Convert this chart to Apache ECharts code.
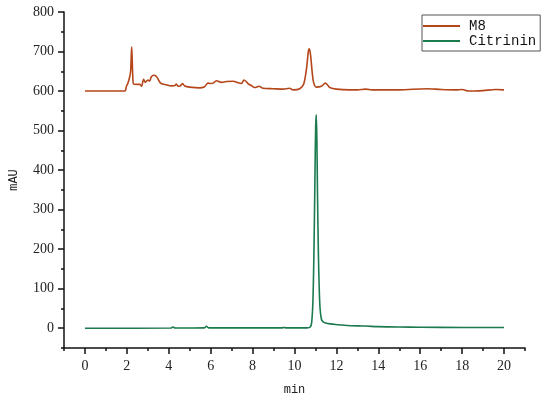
<!DOCTYPE html>
<html>
<head>
<meta charset="utf-8">
<script src="https://cdn.jsdelivr.net/npm/echarts@6/dist/echarts.min.js"></script>
<style>
  html, body { margin: 0; padding: 0; background: #fff; }
  #main { width: 550px; height: 401px; }
</style>
</head>
<body>
<div id="main"></div>
<script>
// M8 trace (time in min, mAU)
var m8Time = [0, 1.9, 1.98, 2.05, 2.13, 2.18, 2.23, 2.28, 2.32, 2.5, 2.62, 2.7, 2.8, 2.88, 3.0, 3.08, 3.17, 3.28, 3.41, 3.53, 3.64, 3.88, 4.12, 4.3, 4.36, 4.45, 4.55, 4.65, 4.76, 5.0, 5.47, 5.71, 5.87, 6.0, 6.11, 6.27, 6.51, 6.75, 7.07, 7.3, 7.47, 7.59, 7.7, 7.78, 7.94, 8.1, 8.31, 8.5, 9.0, 9.45, 9.77, 9.93, 10.25, 10.44, 10.58, 10.66, 10.71, 10.77, 10.84, 10.91, 11.04, 11.28, 11.47, 11.6, 11.68, 12.0, 12.63, 13.0, 13.4, 13.7, 15, 16.3, 17, 17.7, 18.0, 18.3, 18.6, 19.0, 19.6, 20.0];
var m8Value = [600, 600, 612, 620, 635, 650, 712, 640, 618, 617, 617, 612, 630, 622, 628, 625, 636, 640, 637, 626, 619, 616, 613, 614, 618, 612, 613, 619, 613, 610, 608, 611, 620, 619, 620, 626, 622, 624, 625, 621, 619, 628, 624, 619, 614, 609, 612, 607, 606, 605, 607, 603, 606, 618, 660, 700, 707, 690, 650, 622, 610, 612, 620, 614, 609, 605, 603, 603, 605, 603, 603, 606, 604, 603, 604, 600, 600, 601, 604, 603];

// Citrinin trace
var citTime = [0, 4.1, 4.2, 4.3, 5.7, 5.8, 5.9, 9.4, 9.5, 9.6, 10.6, 10.75, 10.82, 10.88, 10.93, 10.98, 11.01, 11.04, 11.07, 11.1, 11.14, 11.18, 11.22, 11.28, 11.35, 11.45, 11.7, 12.1, 12.5, 13.4, 14, 15, 16, 18, 20];
var citValue = [0, 0.5, 3, 0.5, 1, 5, 1, 1, 2, 1, 1, 3, 15, 70, 200, 400, 510, 540, 470, 330, 190, 100, 50, 24, 17, 14, 11, 9, 7, 5.5, 4, 3, 2.5, 2, 2];

var xLabels = [0, 2, 4, 6, 8, 10, 12, 14, 16, 18, 20];
var yLabels = [0, 100, 200, 300, 400, 500, 600, 700, 800];

function pairs(t, v) {
  return t.map(function (x, i) { return [x, v[i]]; });
}

var serif = 'Liberation Serif';
var mono = 'Liberation Mono';

var myChart = echarts.init(document.getElementById('main'));
var option = {
  animation: false,
  grid: { left: 64, right: 25, top: 12, bottom: 51 },
  legend: {
    orient: 'vertical',
    left: 422,
    top: 15,
    padding: [4, 4, 3, 1],
    itemGap: 1,
    itemWidth: 37,
    itemHeight: 2,
    icon: 'rect',
    borderColor: '#555',
    borderWidth: 1,
    textStyle: { fontFamily: mono, fontSize: 14, color: '#111', padding: [0, 0, 0, 4] },
    data: ['M8', 'Citrinin']
  },
  xAxis: [
    {
      type: 'value', min: -1, max: 21,
      name: 'min', nameLocation: 'middle', nameGap: 36,
      nameTextStyle: { fontFamily: mono, fontSize: 12, color: '#222' },
      axisLine: { onZero: false, lineStyle: { color: '#111', width: 1.5 } },
      axisTick: { length: 6, customValues: xLabels, lineStyle: { color: '#111', width: 1.5 } },
      axisLabel: { margin: 11, fontFamily: serif, fontSize: 14, color: '#222', customValues: xLabels },
      splitLine: { show: false }
    },
    {
      type: 'value', min: -1, max: 21, interval: 1, position: 'bottom',
      axisLine: { show: false, onZero: false },
      axisTick: { length: 3, lineStyle: { color: '#111', width: 1.5 } },
      axisLabel: { show: false },
      splitLine: { show: false }
    }
  ],
  yAxis: [
    {
      type: 'value', min: -50, max: 800,
      name: 'mAU', nameLocation: 'middle', nameGap: 44, nameRotate: 90,
      nameTextStyle: { fontFamily: mono, fontSize: 12, color: '#222' },
      axisLine: { show: true, onZero: false, lineStyle: { color: '#111', width: 1.5 } },
      axisTick: { show: true, length: 6, customValues: yLabels, lineStyle: { color: '#111', width: 1.5 } },
      axisLabel: { margin: 10, fontFamily: serif, fontSize: 14, color: '#222', customValues: yLabels },
      splitLine: { show: false }
    },
    {
      type: 'value', min: -50, max: 800, interval: 50, position: 'left',
      axisLine: { show: false, onZero: false },
      axisTick: { show: true, length: 3, lineStyle: { color: '#111', width: 1.5 } },
      axisLabel: { show: false },
      splitLine: { show: false }
    }
  ],
  series: [
    {
      name: 'M8', type: 'line', symbol: 'none', smooth: 0.3,
      lineStyle: { color: '#b4461a', width: 1.6 },
      itemStyle: { color: '#b4461a' },
      data: pairs(m8Time, m8Value)
    },
    {
      name: 'Citrinin', type: 'line', symbol: 'none', smooth: 0.3,
      lineStyle: { color: '#1b7a4e', width: 1.6 },
      itemStyle: { color: '#1b7a4e' },
      data: pairs(citTime, citValue)
    }
  ]
};
myChart.setOption(option);
</script>
</body>
</html>
